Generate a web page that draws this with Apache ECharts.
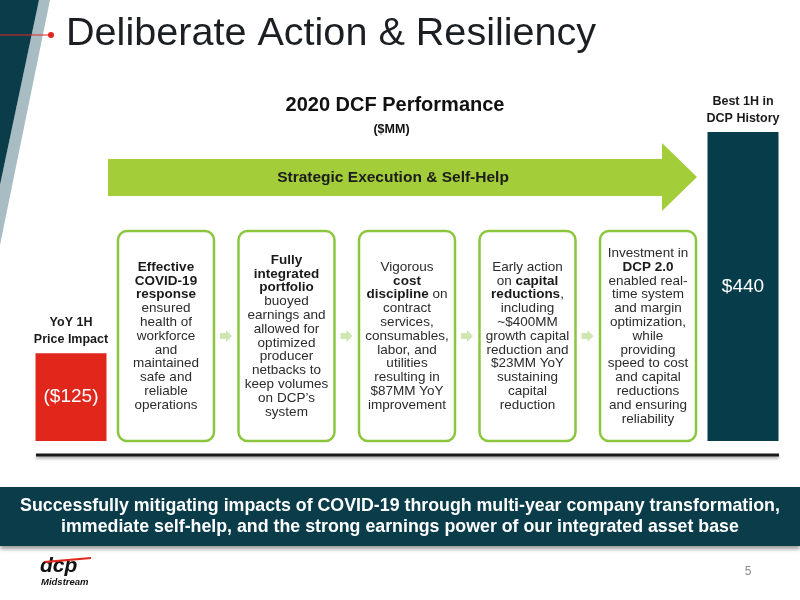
<!DOCTYPE html>
<html>
<head>
<meta charset="utf-8">
<script src="https://cdn.jsdelivr.net/npm/echarts@6/dist/echarts.min.js"></script>
<style>html,body{margin:0;padding:0;background:#fff}#chart{width:800px;height:600px}</style>
</head>
<body>
<div id="chart"></div>
<script>
// ---- data ----
const categories = ['YoY 1H\nPrice Impact', 'Best 1H in\nDCP History'];
const values = [-125, 440];
const barColors = ['#e1261c', '#073c4a'];
const title = 'Deliberate Action & Resiliency';
const chartTitle = '2020 DCF Performance';
const unitLabel = '($MM)';
const arrowLabel = 'Strategic Execution & Self-Help';
const boxTexts = [
  ['{b|Effective}', '{b|COVID-19}', '{b|response}', 'ensured', 'health of', 'workforce', 'and', 'maintained', 'safe and', 'reliable', 'operations'],
  ['{b|Fully}', '{b|integrated}', '{b|portfolio}', 'buoyed', 'earnings and', 'allowed for', 'optimized', 'producer', 'netbacks to', 'keep volumes', 'on DCP\u2019s', 'system'],
  ['Vigorous', '{b|cost}', '{b|discipline} on', 'contract', 'services,', 'consumables,', 'labor, and', 'utilities', 'resulting in', '$87MM YoY', 'improvement'],
  ['Early action', 'on {b|capital}', '{b|reductions},', 'including', '~$400MM', 'growth capital', 'reduction and', '$23MM YoY', 'sustaining', 'capital', 'reduction'],
  ['Investment in', '{b|DCP 2.0}', 'enabled real-', 'time system', 'and margin', 'optimization,', 'while', 'providing', 'speed to cost', 'and capital', 'reductions', 'and ensuring', 'reliability']
];
const bannerLines = [
  'Successfully mitigating impacts of COVID-19 through multi-year company transformation,',
  'immediate self-help, and the strong earnings power of our integrated asset base'
];
const pageNumber = '5';

// ---- chart ----
const FONT = '"Liberation Sans", Arial, Helvetica, sans-serif';
const chart = echarts.init(document.getElementById('chart'), null, {renderer: 'canvas'});

function fmtValue(v) { return v < 0 ? '($' + Math.abs(v) + ')' : '$' + v; }

const graphics = [];
// left decoration
graphics.push({type: 'polygon', shape: {points: [[39, 0], [50, 0], [0, 245], [0, 185]]}, style: {fill: '#a8bcc3'}, silent: true});
graphics.push({type: 'polygon', shape: {points: [[0, 0], [39, 0], [0, 185]]}, style: {fill: '#0b3c4a'}, silent: true});
graphics.push({type: 'line', shape: {x1: 0, y1: 35, x2: 51, y2: 35}, style: {stroke: '#e1261c', lineWidth: 1}, silent: true});
graphics.push({type: 'circle', shape: {cx: 51, cy: 35, r: 3}, style: {fill: '#e1261c'}, silent: true});
// title
graphics.push({type: 'text', x: 66, y: 34, style: {text: title, font: '39.6px ' + FONT, fill: '#1b1e22', verticalAlign: 'middle', align: 'left'}, silent: true});
graphics.push({type: 'text', x: 395, y: 105, style: {text: chartTitle, font: 'bold 20px ' + FONT, fill: '#111', verticalAlign: 'middle', align: 'center'}, silent: true});
graphics.push({type: 'text', x: 391.5, y: 130, style: {text: unitLabel, font: 'bold 12.5px ' + FONT, fill: '#111', verticalAlign: 'middle', align: 'center'}, silent: true});
// big arrow
graphics.push({type: 'polygon', shape: {points: [[108, 159], [662, 159], [662, 143], [697, 177], [662, 211], [662, 196], [108, 196]]}, style: {fill: '#a3cd39'}, silent: true});
graphics.push({type: 'text', x: 393, y: 178, style: {text: arrowLabel, font: 'bold 15.5px ' + FONT, fill: '#1c1c1c', verticalAlign: 'middle', align: 'center'}, silent: true});
// boxes
boxTexts.forEach(function (lines, i) {
  const left = 118 + i * 120.5;
  graphics.push({type: 'rect', shape: {x: left, y: 231, width: 96, height: 210, r: 9}, style: {fill: '#fff', stroke: '#8cc63f', lineWidth: 2.5}, silent: true});
  graphics.push({type: 'text', x: left + 48, y: 336, style: {
    text: lines.join('\n'), font: '13.5px ' + FONT, fontSize: 13.5, fill: '#2b2b2b', align: 'center', verticalAlign: 'middle', lineHeight: 13.8,
    rich: {b: {fontWeight: 'bold', fontSize: 13.5, fontFamily: FONT, fill: '#1a1a1a', lineHeight: 13.8}}
  }, silent: true});
  if (i < boxTexts.length - 1) {
    const ax = left + 96 + 6;
    graphics.push({type: 'polygon', shape: {points: [[ax, 333], [ax + 6, 333], [ax + 6, 330], [ax + 12, 336], [ax + 6, 342], [ax + 6, 339], [ax, 339]]}, style: {fill: '#cfe6b3'}, silent: true});
  }
});
// baseline
graphics.push({type: 'line', shape: {x1: 36, y1: 455, x2: 779, y2: 455}, style: {stroke: '#1a1a1a', lineWidth: 3, shadowColor: 'rgba(0,0,0,0.35)', shadowBlur: 3, shadowOffsetY: 2}, silent: true});
// banner
graphics.push({type: 'rect', shape: {x: 0, y: 487, width: 800, height: 59}, style: {fill: '#0b3c4a', shadowColor: 'rgba(0,0,0,0.4)', shadowBlur: 4, shadowOffsetY: 3}, silent: true});
graphics.push({type: 'text', x: 400, y: 517, style: {text: bannerLines.join('\n'), font: 'bold 17.8px ' + FONT, fill: '#ffffff', align: 'center', verticalAlign: 'middle', lineHeight: 21}, silent: true});
// logo
graphics.push({type: 'text', x: 40, y: 566, style: {text: 'dcp', font: 'italic bold 21px ' + FONT, fill: '#111', align: 'left', verticalAlign: 'middle'}, silent: true});
graphics.push({type: 'polygon', shape: {points: [[44, 561], [91, 557], [91, 559], [46, 563]]}, style: {fill: '#e1261c'}, silent: true});
graphics.push({type: 'text', x: 41, y: 582, style: {text: 'Midstream', font: 'italic bold 9.5px ' + FONT, fill: '#111', align: 'left', verticalAlign: 'middle'}, silent: true});
graphics.push({type: 'text', x: 748, y: 572, style: {text: pageNumber, font: '12px ' + FONT, fill: '#8a8a8a', align: 'center', verticalAlign: 'middle'}, silent: true});

const barData = values.map(function (v, i) { return {value: Math.abs(v), itemStyle: {color: barColors[i]}}; });

chart.setOption({
  animation: false,
  backgroundColor: '#ffffff',
  grid: {left: 71, right: 57, top: 132, bottom: 159},
  xAxis: {type: 'category', data: categories, boundaryGap: false, show: false},
  yAxis: {type: 'value', min: 0, max: 440, show: false},
  graphic: graphics,
  series: [
    {type: 'bar', barWidth: 71, clip: false, data: barData, z: 3,
     label: {show: true, position: 'inside', formatter: function (p) { return fmtValue(values[p.dataIndex]); }, color: '#fff', fontFamily: FONT, fontSize: 19}},
    {type: 'bar', barWidth: 71, barGap: '-100%', clip: false, z: 2,
     data: values.map(function (v) { return Math.abs(v); }),
     itemStyle: {color: 'rgba(0,0,0,0)'},
     label: {show: true, position: 'top', distance: 5, formatter: function (p) { return p.name; }, color: '#1a1a1a', fontFamily: FONT, fontWeight: 'bold', fontSize: 12.5, lineHeight: 17}}
  ]
});
</script>
</body>
</html>
